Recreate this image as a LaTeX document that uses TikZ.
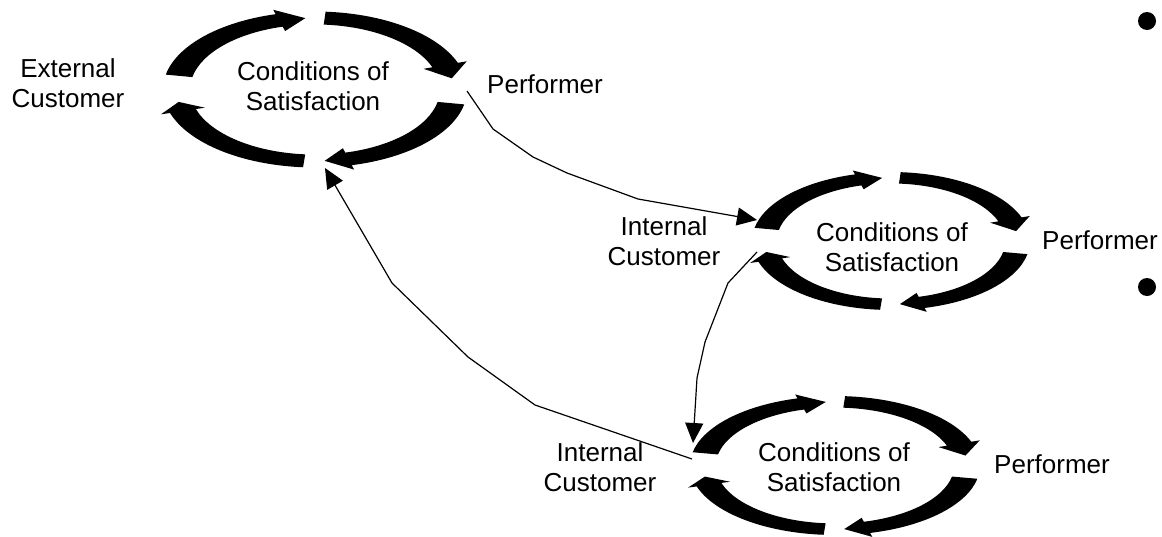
\documentclass[tikz,border=0pt]{standalone}
\usepackage{fontspec}
\setmainfont{Liberation Sans}
\usetikzlibrary{arrows.meta,calc}

% One curved block arrow of a cycle ring: start angle, head-base angle, tip angle.
% Ring radii (\Ao,\Bo outer; \Ai,\Bi inner; \Am,\Bm middle) are set by \satcycle.
\newcommand{\ringarrow}[3]{%
  \fill[ringfill] ({\Ao*cos(#1)},{\Bo*sin(#1)})
      arc[start angle=#1, end angle=#2, x radius=\Ao, y radius=\Bo]
    -- ($({\Ao*cos(#2)},{\Bo*sin(#2)})!-0.35!({\Ai*cos(#2)},{\Bi*sin(#2)})$)
    -- ({\Am*cos(#3)},{\Bm*sin(#3)})
    -- ($({\Ai*cos(#2)},{\Bi*sin(#2)})!-0.35!({\Ao*cos(#2)},{\Bo*sin(#2)})$)
    -- ({\Ai*cos(#2)},{\Bi*sin(#2)})
      arc[start angle=#2, end angle=#1, x radius=\Ai, y radius=\Bi]
    -- cycle;}

% A ring of four clockwise arrows around a centre, outer semi-axes #3 and #4.
\newcommand{\satcycle}[4]{%
  \begin{scope}[shift={(#1,#2)}]
    \pgfmathsetmacro\Ao{#3}\pgfmathsetmacro\Bo{#4}%
    \pgfmathsetmacro\Ai{#3*0.822}\pgfmathsetmacro\Bi{#4*0.834}%
    \pgfmathsetmacro\Am{(\Ao+\Ai)/2}\pgfmathsetmacro\Bm{(\Bo+\Bi)/2}%
    \ringarrow{191}{255}{266}
    \ringarrow{274}{340}{351}
    \ringarrow{11}{76}{86}
    \ringarrow{94.5}{162.5}{170}
  \end{scope}}

\tikzset{
  ringfill/.style={fill=black},
  lbl/.style={font=\fontsize{26}{30}\selectfont, inner sep=0pt, align=center},
  conn/.style={line width=1.2pt, -{Triangle[length=20pt,width=18pt]}},
  bulletdot/.style={circle, fill=black, inner sep=0pt, minimum size=18pt},
}

\begin{document}
\begin{tikzpicture}[x=1pt, y=-1pt]
  \useasboundingbox (0,0) rectangle (1162,536);

  % the three cycles
  \satcycle{315}{89.5}{152}{78}
  \satcycle{891}{241}{139}{69}
  \satcycle{835}{465.5}{145}{69.5}

  % labels
  \node[lbl] (cos1) at (313,86.5) {Conditions of\\Satisfaction};
  \node[lbl] (ext)  at (68,83.5) {External\\Customer};
  \node[lbl, anchor=base] (perf1) at (545,93) {Performer};

  \node[lbl] (cos2) at (892,247.5) {Conditions of\\Satisfaction};
  \node[lbl] (int2) at (664,241.5) {Internal\\Customer};
  \node[lbl, anchor=base] (perf2) at (1100,249) {Performer};

  \node[lbl] (cos3) at (834,467.5) {Conditions of\\Satisfaction};
  \node[lbl] (int3) at (600,467.5) {Internal\\Customer};
  \node[lbl, anchor=base] (perf3) at (1052,473) {Performer};

  % connector ends at the gaps of the rings
  \coordinate (c1right)  at (467,91);
  \coordinate (c1bottom) at (325,168);
  \coordinate (c2in)     at (757,220);
  \coordinate (c2out)    at (757,252);
  \coordinate (c3in)     at (693,443);
  \coordinate (c3out)    at (692,459);

  % hand-offs between the cycles
  \draw[conn] (c1right) -- (493,129) -- (533,157) -- (567,173) -- (638,199) -- (c2in);
  \draw[conn] (c2out) -- (728,283) -- (705,342) -- (697,378) -- (c3in);
  \draw[conn] (c3out) -- (535,405) -- (468,357) -- (392,283) -- (c1bottom);

  % bullets
  \node[bulletdot] (dot1) at (1147,21) {};
  \node[bulletdot] (dot2) at (1147,287) {};
\end{tikzpicture}
\end{document}
